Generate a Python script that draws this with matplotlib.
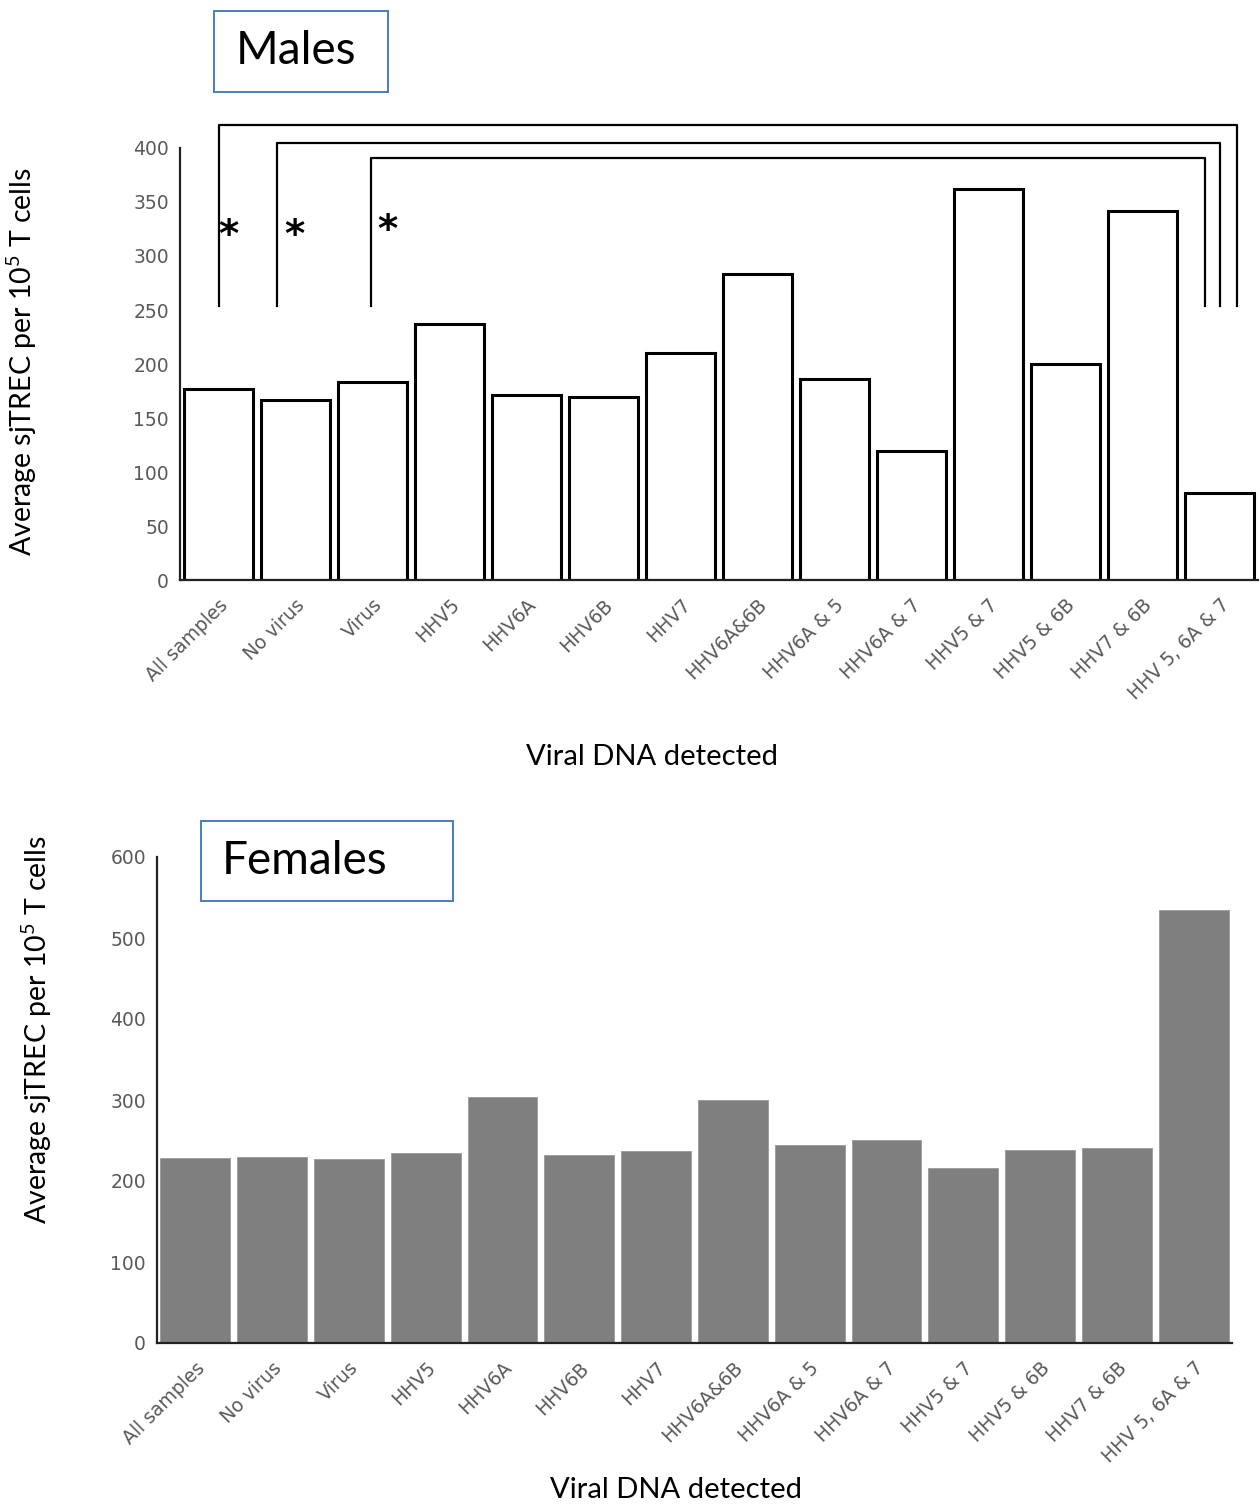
import matplotlib

matplotlib.use("Agg")
import matplotlib.pyplot as plt
from matplotlib.patches import Rectangle

categories = [
    "All samples", "No virus", "Virus", "HHV5", "HHV6A", "HHV6B", "HHV7",
    "HHV6A&6B", "HHV6A & 5", "HHV6A & 7", "HHV5 & 7", "HHV5 & 6B",
    "HHV7 & 6B", "HHV 5, 6A & 7",
]
males = [177, 167, 183, 237, 171, 169, 210, 283, 186, 119, 362, 200, 342, 81]
females = [228, 230, 227, 235, 304, 232, 237, 300, 244, 251, 216, 238, 241, 535]

# significance brackets: (left category, right end, top y, star x, star y)
brackets = [
    (0.0, 13.23, 421, 0.13, 308),
    (0.76, 13.0, 405, 0.98, 308),
    (1.98, 12.81, 391, 2.2, 313),
]
bracket_base = 254

plt.rcParams["mathtext.default"] = "regular"
label_font = ["Lato", "DejaVu Sans"]
tick_color = "#595959"

fig = plt.figure(figsize=(12.6, 15.06), dpi=100)
W, H = 1260, 1506


def axes_at(left, right, top, bottom):
    return fig.add_axes([left / W, 1 - bottom / H, (right - left) / W, (bottom - top) / H])


def style(ax, ymax, step):
    ax.set_xlim(-0.5, len(categories) - 0.5)
    ax.set_ylim(0, ymax)
    ax.set_yticks(range(0, ymax + 1, step))
    for side in ("top", "right"):
        ax.spines[side].set_visible(False)
    for side in ("left", "bottom"):
        ax.spines[side].set_linewidth(1.6)
        ax.spines[side].set_color("#222222")
    ax.tick_params(length=0, labelsize=13.5, labelcolor=tick_color, pad=8)
    ax.tick_params(axis="x", pad=11)
    ax.set_xticks(range(len(categories)))
    ax.set_xticklabels(categories, rotation=45, ha="right", rotation_mode="anchor")
    for lab in ax.get_xticklabels() + ax.get_yticklabels():
        lab.set_family("DejaVu Sans")


def title_box(x0, y0, x1, y1, text, tx):
    fig.patches.append(Rectangle((x0 / W, 1 - y1 / H), (x1 - x0) / W, (y1 - y0) / H,
                                 transform=fig.transFigure, fill=False,
                                 edgecolor="#4a7ebb", linewidth=1.4))
    fig.text(tx / W, 1 - (y0 + y1) / 2 / H, text, fontsize=33, family=label_font,
             va="center", ha="left")


# Males
ax1 = axes_at(180, 1258, 148, 580)
ax1.bar(range(len(categories)), males, width=0.9, color="white",
        edgecolor="black", linewidth=2.2)
style(ax1, 400, 50)
for x0, x1, ytop, sx, sy in brackets:
    ax1.plot([x0, x0, x1, x1], [bracket_base, ytop, ytop, bracket_base],
             color="black", linewidth=1.6, clip_on=False)
    ax1.text(sx, sy, "*", fontsize=28, ha="center", va="baseline",
             family="DejaVu Sans", fontweight="bold")
fig.text(22 / W, 1 - 362 / H, "Average sjTREC per 10$^5$ T cells", rotation=90,
         fontsize=20.5, family=label_font, ha="center", va="center")
fig.text(652 / W, 1 - 757 / H, "Viral DNA detected", fontsize=21,
         family=label_font, ha="center", va="center")
title_box(214, 11, 388, 92, "Males", 236)

# Females
ax2 = axes_at(157, 1232, 857, 1343)
ax2.bar(range(len(categories)), females, width=0.91, color="#7f7f7f",
        edgecolor="#9a9a9a", linewidth=0.6)
style(ax2, 600, 100)
fig.text(37 / W, 1 - 1030 / H, "Average sjTREC per 10$^5$ T cells", rotation=90,
         fontsize=20.5, family=label_font, ha="center", va="center")
fig.text(676 / W, 1 - 1490 / H, "Viral DNA detected", fontsize=21,
         family=label_font, ha="center", va="center")
title_box(201, 821, 453, 901, "Females", 222)

fig.savefig("out.png", dpi=100)
